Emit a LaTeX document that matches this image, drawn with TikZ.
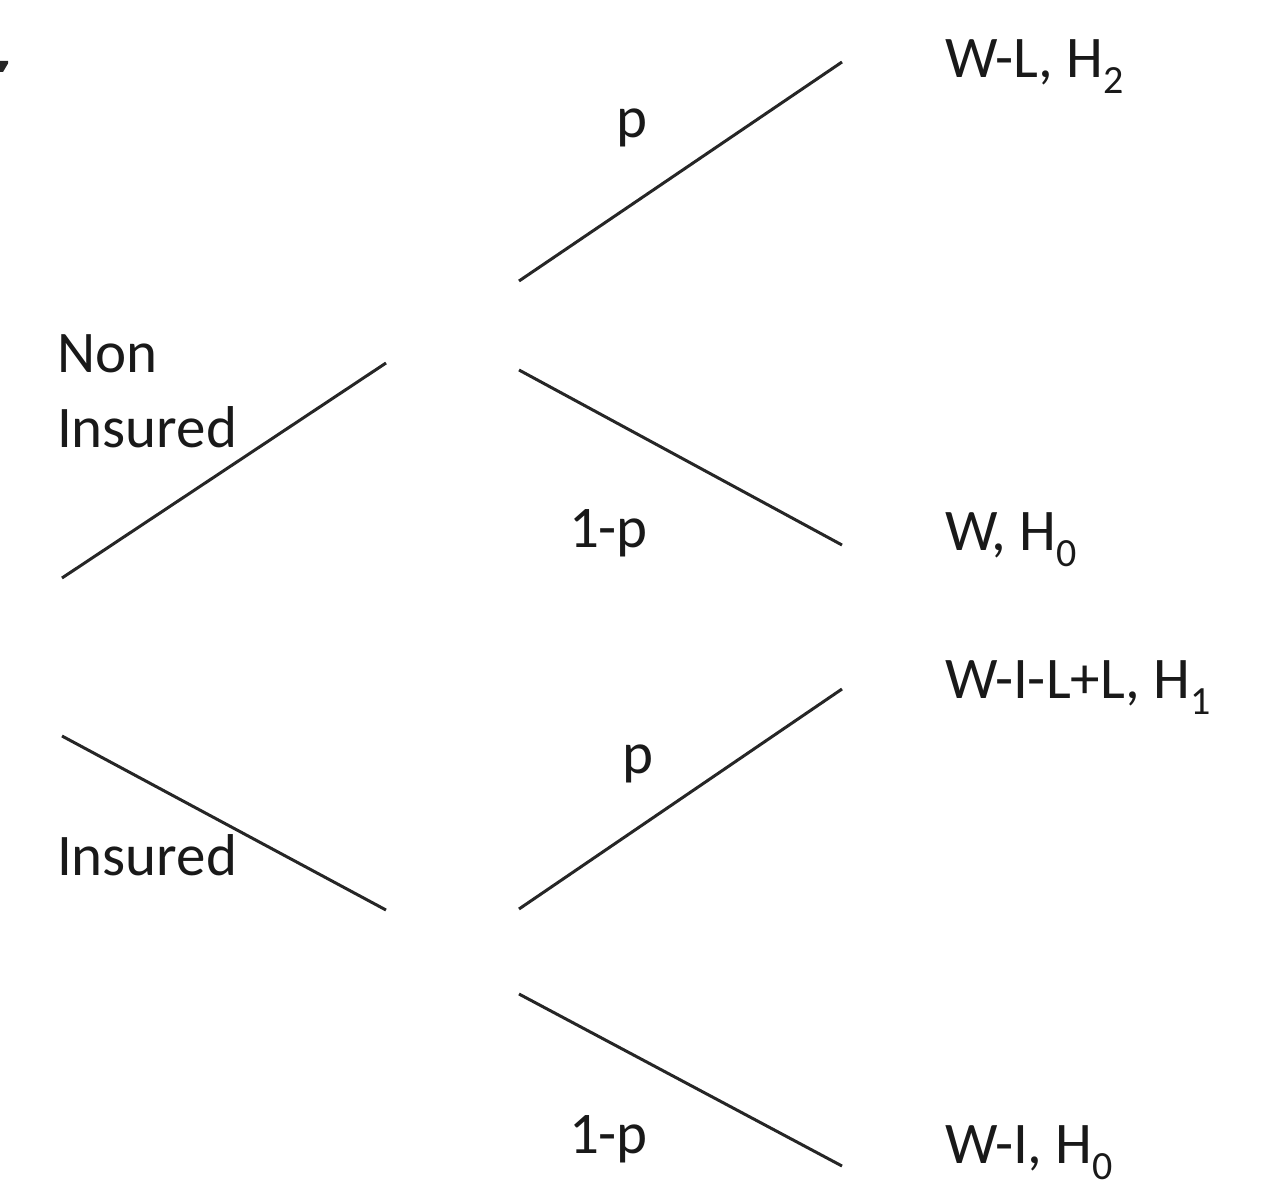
\documentclass[tikz,border=0pt]{standalone}
\usepackage{fontspec}
\setmainfont{Carlito}
\newcommand\lowsub[1]{\raisebox{-8pt}{\fontsize{20}{20}\selectfont #1}}
\begin{document}
\begin{tikzpicture}[x=0.5pt,y=-0.5pt,
  branch/.style={line width=1.5pt,draw=black!85},
  lbl/.style={anchor=base west,inner sep=0pt,outer sep=0pt,
    font=\fontsize{29.5}{35}\selectfont,text=black!90}]
\useasboundingbox (0,0) rectangle (1284,1188);

% small mark at the left edge
\fill[black!85] (0,61) -- (8,61) -- (8,63.5) -- (3,72) -- (0,72) -- cycle;

% branch end points
\coordinate (n0) at (62,578);  \coordinate (n1) at (386,363);
\coordinate (i0) at (62,736);  \coordinate (i1) at (386,910);
\coordinate (a0) at (519,281); \coordinate (a1) at (842,62);
\coordinate (b0) at (519,370); \coordinate (b1) at (842,545);
\coordinate (c0) at (519,909); \coordinate (c1) at (842,689);
\coordinate (d0) at (519,994); \coordinate (d1) at (842,1166);

% first stage: insurance choice
\draw[branch] (n0) -- (n1);
\draw[branch] (i0) -- (i1);
% second stage: loss or no loss
\draw[branch] (a0) -- (a1);
\draw[branch] (b0) -- (b1);
\draw[branch] (c0) -- (c1);
\draw[branch] (d0) -- (d1);

% choice labels
\node[lbl] (tnon) at (57,372) {Non};
\node[lbl] (tnins) at (57,447) {Insured};
\node[lbl] (tins) at (57,875) {Insured};

% probabilities
\node[lbl] (pa) at (616,138) {p};
\node[lbl] (pb) at (569,547) {1-p};
\node[lbl] (pc) at (622,773) {p};
\node[lbl] (pd) at (569,1153) {1-p};

% outcomes
\node[lbl] (oa) at (945,78) {W-L, H\lowsub{2}};
\node[lbl] (ob) at (945,550) {W, H\lowsub{0}};
\node[lbl] (oc) at (945,698) {W-I-L+L, H\lowsub{1}};
\node[lbl] (od) at (945,1163) {W-I, H\lowsub{0}};
\end{tikzpicture}
\end{document}
